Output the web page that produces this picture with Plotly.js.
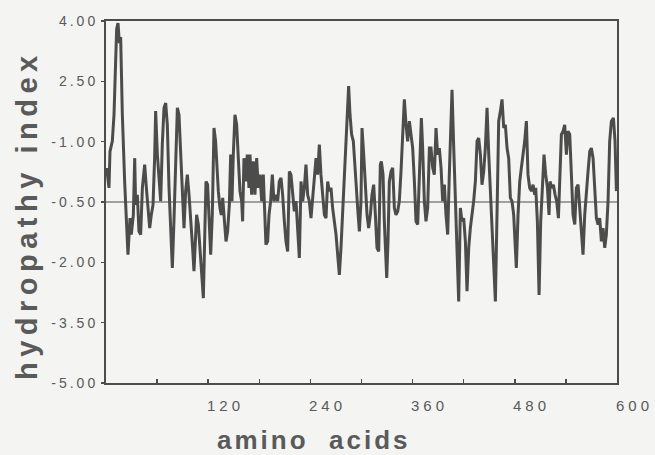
<!DOCTYPE html>
<html>
<head>
<meta charset="utf-8">
<script src="https://cdn.plot.ly/plotly-3.0.1.min.js"></script>
<style>
  html, body { margin:0; padding:0; background:#f4f4f2; }
  #chart { width:655px; height:455px; }
  .ytick text { letter-spacing:3px; }
  .annotation[data-index="0"] text, .annotation[data-index="1"] text,
  .annotation[data-index="2"] text, .annotation[data-index="3"] text,
  .annotation[data-index="4"] text { letter-spacing:4px; }
  .annotation[data-index="5"] text { letter-spacing:3px; }
  .annotation[data-index="6"] text { letter-spacing:5.5px; }
</style>
</head>
<body>
<div id="chart"></div>
<script>
// ---- data (residue number, hydropathy index) ----
const res1 = [0.8,3.5,4.7,7.4,9.4,11.3,12.5,14.1,15.7,17.2,19.2,21.9,24.3,25.8,28.2,29.7,32.1,33.7,34.8,36.8,38.7,40.7,42.7,45.4,47.4,49.3,51.3,53.2,55.2,57.1,58.3,60.3,62.2,64.2,66.1,68.1,70.1,72.0,74.0,75.9,77.9,79.8,81.8,83.8,85.7,87.7,89.6,91.6,93.5,95.5,97.5];
const hyd1 = [0.35,-0.15,0.76,1.01,1.67,3.41,3.80,3.95,3.45,3.60,1.67,0.01,-1.23,-1.81,-0.90,-1.31,-0.82,0.59,-0.57,-0.32,-1.23,-1.31,-0.15,0.43,-0.15,-0.65,-1.15,-0.82,-0.57,0.59,1.76,0.68,0.01,-0.48,0.93,1.84,1.96,1.42,-0.15,-1.23,-2.14,-0.98,0.43,1.84,1.67,0.59,-0.48,-1.15,-0.23,0.18,-0.32];

const res2 = [99.8,101.7,103.3,104.9,106.4,108.4,110.3,112.3,114.3,115.8,117.4,119.3,121.3,122.9,124.8,126.8,128.7,129.9,131.9,133.8,135.4,137.0,138.9,140.9,142.8,144.8,146.4,147.9,149.5,151.4,153.4,155.4,157.3,159.3,160.4,162.0,164.0,165.9,167.9,169.1,171.0,173.0,174.9,176.9,178.8,180.8,182.8,184.7,186.7,187.8,189.8,191.4,193.3,195.3,197.2,199.6];
const hyd2 = [-1.23,-1.64,-2.22,-1.48,-0.82,-1.06,-1.64,-2.31,-2.89,-1.48,0.01,-0.07,-1.23,-1.81,-0.82,1.34,1.01,0.43,-0.23,-0.65,-0.82,-0.40,-0.90,-1.48,-1.23,-0.57,0.68,-0.48,0.68,1.67,1.42,0.68,-0.23,-0.48,-0.98,0.59,0.01,0.68,-0.15,0.68,-0.32,0.51,-0.32,0.59,-0.15,0.18,-0.48,0.18,-0.73,-1.56,-1.48,-0.82,-0.48,0.18,-0.48,-0.32];

const res3 = [201.6,203.5,205.5,207.4,209.4,211.3,213.3,215.3,217.2,219.2,221.1,223.1,225.0,227.0,229.0,230.9,232.9,234.8,236.8,238.7,240.7,242.7,244.6,246.6,248.5,250.5,252.4,254.4,256.4,258.3,260.3,262.2,264.2,266.1,268.1,270.1,272.0,274.0,275.9,277.9,279.8,281.8,283.8,284.9,286.5,288.4,290.4,292.0,293.5,295.5,297.5,299.4];
const hyd3 = [-0.48,0.01,0.10,-0.32,-0.98,-1.48,-1.73,0.26,0.18,-0.40,-0.73,-0.48,-1.23,-1.89,0.01,-0.48,-0.15,0.43,-0.32,-0.48,-0.90,-0.32,0.01,0.59,0.18,0.93,0.18,-0.32,-0.82,-0.90,0.01,-0.23,-0.15,-0.65,-0.98,-1.31,-1.81,-2.31,-1.64,-0.82,0.18,1.01,1.67,2.38,1.67,1.18,1.01,0.59,0.01,-0.65,-1.23,-0.48];

const res4 = [300.6,302.6,304.5,306.5,308.4,310.4,312.3,314.3,316.3,318.2,320.2,322.1,323.3,325.3,326.8,328.0,329.6,331.1,332.7,334.7,336.6,338.6,340.5,342.5,344.4,346.4,348.4,350.3,352.3,354.2,356.2,358.1,360.1,362.1,364.0,366.0,367.9,370.3,371.8,373.8,375.7,377.7,379.7,381.6,383.6,385.5,387.5,389.4,391.4,393.4,395.3,397.3,399.2,401.2,403.1];
const hyd4 = [1.34,0.68,-0.15,-0.82,-1.15,-0.82,-0.32,-0.07,-0.82,-1.64,-1.73,0.43,0.51,0.18,-0.98,-1.64,-2.39,-1.48,0.01,0.26,0.35,-0.65,-0.82,-0.73,-0.48,0.26,1.01,2.05,1.42,1.01,1.51,1.18,0.84,0.01,-0.98,-1.06,0.01,1.59,0.84,-0.48,-0.98,-0.65,0.84,0.84,0.35,0.18,1.34,0.68,0.84,0.35,-0.48,-0.07,-0.82,-1.31,0.18];

const res5 = [406.3,408.3,410.2,412.2,414.1,416.1,418.0,420.0,422.0,423.9,425.9,427.8,429.8,431.7,433.7,435.7,437.6,439.6,441.5,443.5,445.4,447.4,449.4,451.3,453.3,455.2,457.2,459.1,461.1,463.1,465.0,467.0,468.9,470.9,472.8,474.8,476.7,478.7,480.7,481.8,483.8,485.8,487.7,489.7,491.6,493.6,495.5,497.5,499.5,501.4,503.4];
const hyd5 = [2.29,0.84,-0.48,-1.64,-2.97,-0.65,-0.98,-0.90,-1.48,-2.72,-1.64,-1.15,-0.82,-0.48,0.01,1.01,1.09,0.68,-0.07,0.26,0.84,1.84,0.68,-0.32,-1.15,-2.14,-2.97,-0.82,1.51,1.76,2.05,1.34,1.42,0.84,0.59,-0.40,-0.48,-0.82,-1.64,-2.14,-0.82,0.01,0.35,0.68,1.01,1.51,0.18,-0.15,-0.23,-0.07,-0.32];

const res6 = [504.6,506.5,508.5,510.4,512.4,514.3,516.3,518.3,520.2,521.4,523.3,525.3,527.3,529.2,531.2,533.1,534.7,536.7,538.6,540.6,542.5,544.5,546.4,548.4,550.4,552.3,554.3,556.2,558.2,560.1,562.1,564.1,566.0,568.0,569.9,571.9,573.8,575.8,577.7,579.7,581.7,583.6,585.6,587.5,589.5,591.4,593.4,595.8,597.7,599.3];
const hyd6 = [-0.15,-0.98,-2.81,-0.98,-0.15,0.68,0.18,-0.15,-0.82,0.01,-0.15,-0.07,-0.32,-0.48,-0.90,0.26,1.18,1.26,1.42,0.68,1.26,1.18,0.26,-0.82,-1.06,-0.15,-0.07,-0.65,-1.31,-1.81,-0.82,-0.15,0.26,0.76,0.84,0.59,-0.32,-0.90,-1.06,-0.90,-1.48,-1.15,-1.64,-1.31,-0.48,1.01,1.51,1.59,1.01,-0.23];

const baseline = -0.5;
const yTickVals = [4, 2.5, 1, -0.5, -2, -3.5, -5];
const yTickText = ['4.00', '2.50', '-1.00', '-0.50', '-2.00', '-3.50', '-5.00'];
const xTickVals = [60, 120, 180, 240, 300, 360, 420, 480, 540];
const xLabelVals = [120, 240, 360, 480, 600];
const xTitle = 'amino  acids';
const yTitle = 'hydropathy index';

// ---- drawing ----
const residue = [].concat(res1, res2, res3, res4, res5, res6);
const hydropathy = [].concat(hyd1, hyd2, hyd3, hyd4, hyd5, hyd6);

const INK = '#4c4c4c';
const TXT = '#5a5a5a';
const FONT = 'Liberation Sans, Arial, sans-serif';

const trace = {
  x: residue, y: hydropathy, type: 'scatter', mode: 'lines',
  line: {color: INK, width: 3}, hoverinfo: 'skip'
};

const annotations = xLabelVals.map(v => ({
  x: v, y: 0, xref: 'x', yref: 'paper', text: String(v), showarrow: false,
  xanchor: 'center', yanchor: 'middle', xshift: 17, yshift: -22,
  font: {family: FONT, size: 15, color: TXT}
}));
annotations.push({
  x: 0.407, y: 0, xref: 'paper', yref: 'paper', text: xTitle, showarrow: false,
  xanchor: 'center', yanchor: 'middle', yshift: -57,
  font: {family: FONT, size: 26, color: TXT, weight: 'bold'}
});
annotations.push({
  x: 0, y: 0.464, xref: 'paper', yref: 'paper', text: yTitle, showarrow: false,
  xanchor: 'center', yanchor: 'middle', xshift: -79, textangle: -90,
  font: {family: FONT, size: 29, color: TXT, weight: 'bold'}
});

const layout = {
  width: 655, height: 455,
  margin: {l: 106, r: 38, t: 21, b: 72, pad: 0},
  paper_bgcolor: '#f4f4f2', plot_bgcolor: '#f4f4f2',
  showlegend: false,
  xaxis: {
    range: [0, 600], tickvals: xTickVals, showticklabels: false,
    ticks: 'inside', ticklen: 4, tickwidth: 1.5, tickcolor: INK,
    showline: true, linecolor: INK, linewidth: 2, mirror: true,
    showgrid: false, zeroline: false, fixedrange: true
  },
  yaxis: {
    range: [-5, 4], tickvals: yTickVals, ticktext: yTickText,
    ticks: 'outside', ticklen: 3, tickwidth: 1.5, tickcolor: INK,
    tickfont: {family: FONT, size: 14, color: TXT},
    showline: true, linecolor: INK, linewidth: 2, mirror: true,
    showgrid: false, zeroline: false, fixedrange: true
  },
  shapes: [{
    type: 'line', xref: 'x', yref: 'y', x0: 0, x1: 600, y0: baseline, y1: baseline,
    line: {color: INK, width: 1.2}
  }],
  annotations: annotations
};

Plotly.newPlot('chart', [trace], layout, {displayModeBar: false, staticPlot: true});
</script>
</body>
</html>
